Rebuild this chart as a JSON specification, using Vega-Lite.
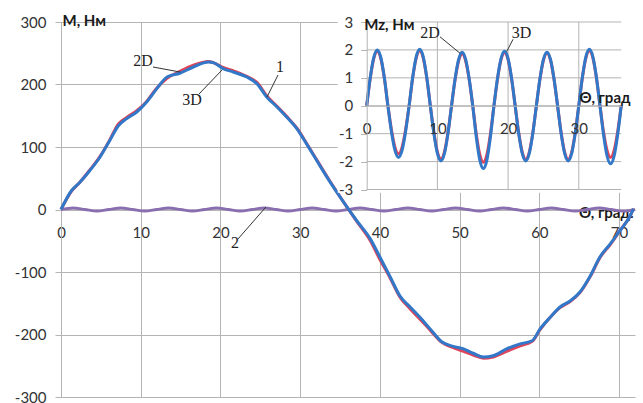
{
  "$schema": "https://vega.github.io/schema/vega-lite/v6.json",
  "width": 574,
  "height": 375,
  "autosize": {"type": "none"},
  "padding": {"left": 61, "top": 22, "right": 8, "bottom": 6},
  "background": "white",
  "config": {
    "view": {"stroke": null},
    "axis": {
      "labelFont": "Lato", "labelFontSize": 15, "labelColor": "#333333",
      "titleFont": "Lato", "titleFontSize": 15, "titleColor": "#1a1a1a", "titleFontWeight": "bold",
      "gridColor": "#b4b4b4", "gridWidth": 1, "domainColor": "#b4b4b4", "tickColor": "#b4b4b4",
      "labelFlush": false, "labelOverlap": false, "titleAngle": 0,
      "labelExpr": "'' + datum.value"
    }
  },
  "datasets": {
    "m1": [
      {"theta": 0, "m": 0, "model": "2D"}, {"theta": 1.3, "m": 29, "model": "2D"}, {"theta": 2.4, "m": 44, "model": "2D"}, {"theta": 3.6, "m": 63, "model": "2D"}, {"theta": 4.9, "m": 85, "model": "2D"}, {"theta": 6.1, "m": 111, "model": "2D"}, {"theta": 7.2, "m": 137, "model": "2D"}, {"theta": 8.2, "m": 147, "model": "2D"}, {"theta": 9.5, "m": 158, "model": "2D"}, {"theta": 10.75, "m": 173, "model": "2D"}, {"theta": 12.0, "m": 194, "model": "2D"}, {"theta": 13.3, "m": 210, "model": "2D"}, {"theta": 14.9, "m": 221, "model": "2D"}, {"theta": 16.6, "m": 231, "model": "2D"}, {"theta": 18.5, "m": 237, "model": "2D"}, {"theta": 19.1, "m": 235, "model": "2D"}, {"theta": 20.4, "m": 227, "model": "2D"}, {"theta": 21.6, "m": 222, "model": "2D"}, {"theta": 23.3, "m": 213, "model": "2D"}, {"theta": 24.6, "m": 203, "model": "2D"}, {"theta": 25.8, "m": 182, "model": "2D"}, {"theta": 27.1, "m": 165, "model": "2D"}, {"theta": 28.3, "m": 149, "model": "2D"}, {"theta": 29.6, "m": 130, "model": "2D"}, {"theta": 30.8, "m": 106, "model": "2D"}, {"theta": 32.1, "m": 79, "model": "2D"}, {"theta": 33.5, "m": 50, "model": "2D"}, {"theta": 35.6, "m": 9, "model": "2D"}, {"theta": 37.1, "m": -19, "model": "2D"}, {"theta": 38.8, "m": -50, "model": "2D"}, {"theta": 40.0, "m": -80, "model": "2D"}, {"theta": 41.3, "m": -110, "model": "2D"}, {"theta": 42.5, "m": -140, "model": "2D"}, {"theta": 43.8, "m": -159, "model": "2D"}, {"theta": 45.0, "m": -175, "model": "2D"}, {"theta": 46.3, "m": -193, "model": "2D"}, {"theta": 47.8, "m": -213, "model": "2D"}, {"theta": 49.2, "m": -221, "model": "2D"}, {"theta": 50.5, "m": -227, "model": "2D"}, {"theta": 51.7, "m": -233, "model": "2D"}, {"theta": 53.0, "m": -238, "model": "2D"}, {"theta": 54.2, "m": -236, "model": "2D"}, {"theta": 55.9, "m": -227, "model": "2D"}, {"theta": 57.6, "m": -218, "model": "2D"}, {"theta": 59.1, "m": -211, "model": "2D"}, {"theta": 60.1, "m": -192, "model": "2D"}, {"theta": 61.4, "m": -172, "model": "2D"}, {"theta": 62.6, "m": -157, "model": "2D"}, {"theta": 63.9, "m": -147, "model": "2D"}, {"theta": 65.1, "m": -133, "model": "2D"}, {"theta": 66.4, "m": -107, "model": "2D"}, {"theta": 67.6, "m": -77, "model": "2D"}, {"theta": 68.9, "m": -56, "model": "2D"}, {"theta": 70.1, "m": -34, "model": "2D"}, {"theta": 71.4, "m": -10, "model": "2D"}, {"theta": 71.8, "m": 1, "model": "2D"},
      {"theta": 0, "m": 0, "model": "3D"}, {"theta": 1.3, "m": 30, "model": "3D"}, {"theta": 2.4, "m": 44, "model": "3D"}, {"theta": 3.6, "m": 62, "model": "3D"}, {"theta": 4.9, "m": 84, "model": "3D"}, {"theta": 6.1, "m": 110, "model": "3D"}, {"theta": 7.2, "m": 134, "model": "3D"}, {"theta": 8.2, "m": 145, "model": "3D"}, {"theta": 9.5, "m": 156, "model": "3D"}, {"theta": 10.75, "m": 172, "model": "3D"}, {"theta": 12.0, "m": 193, "model": "3D"}, {"theta": 13.3, "m": 212, "model": "3D"}, {"theta": 14.9, "m": 218, "model": "3D"}, {"theta": 16.6, "m": 228, "model": "3D"}, {"theta": 18.5, "m": 236, "model": "3D"}, {"theta": 19.1, "m": 235, "model": "3D"}, {"theta": 20.4, "m": 225, "model": "3D"}, {"theta": 21.6, "m": 220, "model": "3D"}, {"theta": 23.3, "m": 212, "model": "3D"}, {"theta": 24.6, "m": 201, "model": "3D"}, {"theta": 25.8, "m": 180, "model": "3D"}, {"theta": 27.1, "m": 164, "model": "3D"}, {"theta": 28.3, "m": 148, "model": "3D"}, {"theta": 29.6, "m": 129, "model": "3D"}, {"theta": 30.8, "m": 105, "model": "3D"}, {"theta": 32.1, "m": 78, "model": "3D"}, {"theta": 33.5, "m": 49, "model": "3D"}, {"theta": 35.6, "m": 9, "model": "3D"}, {"theta": 37.1, "m": -18, "model": "3D"}, {"theta": 38.8, "m": -47, "model": "3D"}, {"theta": 40.0, "m": -76, "model": "3D"}, {"theta": 41.3, "m": -108, "model": "3D"}, {"theta": 42.5, "m": -138, "model": "3D"}, {"theta": 43.8, "m": -156, "model": "3D"}, {"theta": 45.0, "m": -172, "model": "3D"}, {"theta": 46.3, "m": -191, "model": "3D"}, {"theta": 47.8, "m": -212, "model": "3D"}, {"theta": 49.2, "m": -219, "model": "3D"}, {"theta": 50.5, "m": -223, "model": "3D"}, {"theta": 51.7, "m": -230, "model": "3D"}, {"theta": 53.0, "m": -236, "model": "3D"}, {"theta": 54.2, "m": -234, "model": "3D"}, {"theta": 55.9, "m": -223, "model": "3D"}, {"theta": 57.6, "m": -215, "model": "3D"}, {"theta": 59.1, "m": -210, "model": "3D"}, {"theta": 60.1, "m": -191, "model": "3D"}, {"theta": 61.4, "m": -172, "model": "3D"}, {"theta": 62.6, "m": -156, "model": "3D"}, {"theta": 63.9, "m": -146, "model": "3D"}, {"theta": 65.1, "m": -132, "model": "3D"}, {"theta": 66.4, "m": -106, "model": "3D"}, {"theta": 67.6, "m": -76, "model": "3D"}, {"theta": 68.9, "m": -55, "model": "3D"}, {"theta": 70.1, "m": -34, "model": "3D"}, {"theta": 71.4, "m": -10, "model": "3D"}, {"theta": 71.8, "m": 1, "model": "3D"}
    ],
    "c2": [
      {"theta": 0, "m": 0}, {"theta": 1.5, "m": 2.5}, {"theta": 3, "m": 0}, {"theta": 4.5, "m": -2.5}, {"theta": 6, "m": 0}, {"theta": 7.5, "m": 2.5}, {"theta": 9, "m": 0}, {"theta": 10.5, "m": -2.5}, {"theta": 12, "m": 0}, {"theta": 13.5, "m": 2.5}, {"theta": 15, "m": 0}, {"theta": 16.5, "m": -2.5}, {"theta": 18, "m": 0}, {"theta": 19.5, "m": 2.5}, {"theta": 21, "m": 0}, {"theta": 22.5, "m": -2.5}, {"theta": 24, "m": 0}, {"theta": 25.5, "m": 2.5}, {"theta": 27, "m": 0}, {"theta": 28.5, "m": -2.5}, {"theta": 30, "m": 0}, {"theta": 31.5, "m": 2.5}, {"theta": 33, "m": 0}, {"theta": 34.5, "m": -2.5}, {"theta": 36, "m": 0}, {"theta": 37.5, "m": 2.5}, {"theta": 39, "m": 0}, {"theta": 40.5, "m": -2.5}, {"theta": 42, "m": 0}, {"theta": 43.5, "m": 2.5}, {"theta": 45, "m": 0}, {"theta": 46.5, "m": -2.5}, {"theta": 48, "m": 0}, {"theta": 49.5, "m": 2.5}, {"theta": 51, "m": 0}, {"theta": 52.5, "m": -2.5}, {"theta": 54, "m": 0}, {"theta": 55.5, "m": 2.5}, {"theta": 57, "m": 0}, {"theta": 58.5, "m": -2.5}, {"theta": 60, "m": 0}, {"theta": 61.5, "m": 2.5}, {"theta": 63, "m": 0}, {"theta": 64.5, "m": -2.5}, {"theta": 66, "m": 0}, {"theta": 67.5, "m": 2.5}, {"theta": 69, "m": 0}, {"theta": 70.5, "m": -2.5}, {"theta": 72, "m": 0}
    ],
    "annM": [
      {"label": "2D", "tx": 10.29, "ty": 237.6, "ax": 11.54, "ay": 228, "bx": 14.93, "by": 220},
      {"label": "3D", "tx": 16.43, "ty": 175.2, "ax": 17.31, "ay": 184.8, "bx": 20.2, "by": 223.2},
      {"label": "1", "tx": 27.47, "ty": 228, "ax": 27.22, "ay": 215.2, "bx": 25.84, "by": 180},
      {"label": "2", "tx": 21.83, "ty": -53.6, "ax": 22.2, "ay": -47.2, "bx": 25.7, "by": 4}
    ],
    "mz": [
      {"theta": 0, "mz": 0, "model": "2D"}, {"theta": 0.5, "mz": 0.98, "model": "2D"}, {"theta": 1, "mz": 1.69, "model": "2D"}, {"theta": 1.5, "mz": 1.95, "model": "2D"}, {"theta": 2, "mz": 1.69, "model": "2D"}, {"theta": 2.5, "mz": 0.98, "model": "2D"}, {"theta": 3, "mz": 0, "model": "2D"}, {"theta": 3.5, "mz": -0.86, "model": "2D"}, {"theta": 4, "mz": -1.49, "model": "2D"}, {"theta": 4.5, "mz": -1.72, "model": "2D"}, {"theta": 5, "mz": -1.49, "model": "2D"}, {"theta": 5.5, "mz": -0.86, "model": "2D"},
      {"theta": 6, "mz": 0, "model": "2D"}, {"theta": 6.5, "mz": 0.99, "model": "2D"}, {"theta": 7, "mz": 1.71, "model": "2D"}, {"theta": 7.5, "mz": 1.97, "model": "2D"}, {"theta": 8, "mz": 1.71, "model": "2D"}, {"theta": 8.5, "mz": 0.99, "model": "2D"}, {"theta": 9, "mz": 0, "model": "2D"}, {"theta": 9.5, "mz": -0.95, "model": "2D"}, {"theta": 10, "mz": -1.65, "model": "2D"}, {"theta": 10.5, "mz": -1.9, "model": "2D"}, {"theta": 11, "mz": -1.65, "model": "2D"}, {"theta": 11.5, "mz": -0.95, "model": "2D"},
      {"theta": 12, "mz": 0, "model": "2D"}, {"theta": 12.5, "mz": 0.93, "model": "2D"}, {"theta": 13, "mz": 1.6, "model": "2D"}, {"theta": 13.5, "mz": 1.85, "model": "2D"}, {"theta": 14, "mz": 1.6, "model": "2D"}, {"theta": 14.5, "mz": 0.93, "model": "2D"}, {"theta": 15, "mz": 0, "model": "2D"}, {"theta": 15.5, "mz": -1.01, "model": "2D"}, {"theta": 16, "mz": -1.75, "model": "2D"}, {"theta": 16.5, "mz": -2.02, "model": "2D"}, {"theta": 17, "mz": -1.75, "model": "2D"}, {"theta": 17.5, "mz": -1.01, "model": "2D"},
      {"theta": 18, "mz": 0, "model": "2D"}, {"theta": 18.5, "mz": 0.95, "model": "2D"}, {"theta": 19, "mz": 1.65, "model": "2D"}, {"theta": 19.5, "mz": 1.9, "model": "2D"}, {"theta": 20, "mz": 1.65, "model": "2D"}, {"theta": 20.5, "mz": 0.95, "model": "2D"}, {"theta": 21, "mz": 0, "model": "2D"}, {"theta": 21.5, "mz": -0.96, "model": "2D"}, {"theta": 22, "mz": -1.66, "model": "2D"}, {"theta": 22.5, "mz": -1.92, "model": "2D"}, {"theta": 23, "mz": -1.66, "model": "2D"}, {"theta": 23.5, "mz": -0.96, "model": "2D"},
      {"theta": 24, "mz": 0, "model": "2D"}, {"theta": 24.5, "mz": 0.94, "model": "2D"}, {"theta": 25, "mz": 1.63, "model": "2D"}, {"theta": 25.5, "mz": 1.88, "model": "2D"}, {"theta": 26, "mz": 1.63, "model": "2D"}, {"theta": 26.5, "mz": 0.94, "model": "2D"}, {"theta": 27, "mz": 0, "model": "2D"}, {"theta": 27.5, "mz": -0.96, "model": "2D"}, {"theta": 28, "mz": -1.66, "model": "2D"}, {"theta": 28.5, "mz": -1.92, "model": "2D"}, {"theta": 29, "mz": -1.66, "model": "2D"}, {"theta": 29.5, "mz": -0.96, "model": "2D"},
      {"theta": 30, "mz": 0, "model": "2D"}, {"theta": 30.5, "mz": 0.99, "model": "2D"}, {"theta": 31, "mz": 1.71, "model": "2D"}, {"theta": 31.5, "mz": 1.97, "model": "2D"}, {"theta": 32, "mz": 1.71, "model": "2D"}, {"theta": 32.5, "mz": 0.99, "model": "2D"}, {"theta": 33, "mz": 0, "model": "2D"}, {"theta": 33.5, "mz": -0.93, "model": "2D"}, {"theta": 34, "mz": -1.6, "model": "2D"}, {"theta": 34.5, "mz": -1.85, "model": "2D"}, {"theta": 35, "mz": -1.6, "model": "2D"}, {"theta": 35.5, "mz": -0.93, "model": "2D"}, {"theta": 36, "mz": 0, "model": "2D"},
      {"theta": 0, "mz": 0, "model": "3D"}, {"theta": 0.5, "mz": 1.0, "model": "3D"}, {"theta": 1, "mz": 1.73, "model": "3D"}, {"theta": 1.5, "mz": 2.0, "model": "3D"}, {"theta": 2, "mz": 1.73, "model": "3D"}, {"theta": 2.5, "mz": 1.0, "model": "3D"}, {"theta": 3, "mz": 0, "model": "3D"}, {"theta": 3.5, "mz": -0.93, "model": "3D"}, {"theta": 4, "mz": -1.6, "model": "3D"}, {"theta": 4.5, "mz": -1.85, "model": "3D"}, {"theta": 5, "mz": -1.6, "model": "3D"}, {"theta": 5.5, "mz": -0.93, "model": "3D"},
      {"theta": 6, "mz": 0, "model": "3D"}, {"theta": 6.5, "mz": 1.01, "model": "3D"}, {"theta": 7, "mz": 1.75, "model": "3D"}, {"theta": 7.5, "mz": 2.02, "model": "3D"}, {"theta": 8, "mz": 1.75, "model": "3D"}, {"theta": 8.5, "mz": 1.01, "model": "3D"}, {"theta": 9, "mz": 0, "model": "3D"}, {"theta": 9.5, "mz": -0.99, "model": "3D"}, {"theta": 10, "mz": -1.71, "model": "3D"}, {"theta": 10.5, "mz": -1.98, "model": "3D"}, {"theta": 11, "mz": -1.71, "model": "3D"}, {"theta": 11.5, "mz": -0.99, "model": "3D"},
      {"theta": 12, "mz": 0, "model": "3D"}, {"theta": 12.5, "mz": 0.96, "model": "3D"}, {"theta": 13, "mz": 1.66, "model": "3D"}, {"theta": 13.5, "mz": 1.92, "model": "3D"}, {"theta": 14, "mz": 1.66, "model": "3D"}, {"theta": 14.5, "mz": 0.96, "model": "3D"}, {"theta": 15, "mz": 0, "model": "3D"}, {"theta": 15.5, "mz": -1.12, "model": "3D"}, {"theta": 16, "mz": -1.95, "model": "3D"}, {"theta": 16.5, "mz": -2.25, "model": "3D"}, {"theta": 17, "mz": -1.95, "model": "3D"}, {"theta": 17.5, "mz": -1.12, "model": "3D"},
      {"theta": 18, "mz": 0, "model": "3D"}, {"theta": 18.5, "mz": 0.98, "model": "3D"}, {"theta": 19, "mz": 1.69, "model": "3D"}, {"theta": 19.5, "mz": 1.95, "model": "3D"}, {"theta": 20, "mz": 1.69, "model": "3D"}, {"theta": 20.5, "mz": 0.98, "model": "3D"}, {"theta": 21, "mz": 0, "model": "3D"}, {"theta": 21.5, "mz": -0.99, "model": "3D"}, {"theta": 22, "mz": -1.71, "model": "3D"}, {"theta": 22.5, "mz": -1.98, "model": "3D"}, {"theta": 23, "mz": -1.71, "model": "3D"}, {"theta": 23.5, "mz": -0.99, "model": "3D"},
      {"theta": 24, "mz": 0, "model": "3D"}, {"theta": 24.5, "mz": 0.96, "model": "3D"}, {"theta": 25, "mz": 1.66, "model": "3D"}, {"theta": 25.5, "mz": 1.92, "model": "3D"}, {"theta": 26, "mz": 1.66, "model": "3D"}, {"theta": 26.5, "mz": 0.96, "model": "3D"}, {"theta": 27, "mz": 0, "model": "3D"}, {"theta": 27.5, "mz": -0.99, "model": "3D"}, {"theta": 28, "mz": -1.71, "model": "3D"}, {"theta": 28.5, "mz": -1.98, "model": "3D"}, {"theta": 29, "mz": -1.71, "model": "3D"}, {"theta": 29.5, "mz": -0.99, "model": "3D"},
      {"theta": 30, "mz": 0, "model": "3D"}, {"theta": 30.5, "mz": 1.01, "model": "3D"}, {"theta": 31, "mz": 1.75, "model": "3D"}, {"theta": 31.5, "mz": 2.02, "model": "3D"}, {"theta": 32, "mz": 1.75, "model": "3D"}, {"theta": 32.5, "mz": 1.01, "model": "3D"}, {"theta": 33, "mz": 0, "model": "3D"}, {"theta": 33.5, "mz": -1.04, "model": "3D"}, {"theta": 34, "mz": -1.8, "model": "3D"}, {"theta": 34.5, "mz": -2.08, "model": "3D"}, {"theta": 35, "mz": -1.8, "model": "3D"}, {"theta": 35.5, "mz": -1.04, "model": "3D"}, {"theta": 36, "mz": 0, "model": "3D"}
    ],
    "annI": [
      {"label": "2D", "tx": 8.95, "ty": 2.6, "ax": 10.37, "ay": 2.47, "bx": 13.2, "by": 1.88},
      {"label": "3D", "tx": 21.9, "ty": 2.6, "ax": 20.7, "ay": 2.38, "bx": 19.8, "by": 1.94}
    ],
    "insetBox": [{"x0": -4.1, "x1": 40, "y0": -3.12, "y1": 4}],
    "gridY": [{"mz": -3}, {"mz": -2}, {"mz": -1}, {"mz": 0}, {"mz": 1}, {"mz": 2}, {"mz": 3}],
    "gridX": [{"theta": 10}, {"theta": 20}, {"theta": 30}]
  },
  "layer": [
    {
      "layer": [
        {
          "data": {"name": "c2"},
          "mark": {"type": "line", "color": "#8a6fb0", "strokeWidth": 3, "interpolate": "monotone"},
          "encoding": {
            "x": {"field": "theta", "type": "quantitative",
                  "scale": {"domain": [0, 72], "nice": false, "zero": false},
                  "axis": {"orient": "bottom", "offset": -187.5, "values": [0, 10, 20, 30, 40, 50, 60, 70], "grid": true, "ticks": false, "labelPadding": 16,
                           "title": "Θ, град.", "titleX": 572, "titleY": 8, "titleAlign": "right", "titleBaseline": "alphabetic"}},
            "y": {"field": "m", "type": "quantitative",
                  "scale": {"domain": [-300, 300], "nice": false, "zero": false},
                  "axis": {"orient": "left", "values": [-300, -200, -100, 0, 100, 200, 300], "grid": true, "tickSize": 6, "labelPadding": 9,
                           "title": "M, Нм", "titleX": 1, "titleY": 3, "titleAlign": "left", "titleBaseline": "alphabetic"}}
          }
        },
        {
          "data": {"name": "m1"},
          "mark": {"type": "line", "strokeWidth": 3, "interpolate": "monotone"},
          "encoding": {
            "x": {"field": "theta", "type": "quantitative"},
            "y": {"field": "m", "type": "quantitative"},
            "color": {"field": "model", "type": "nominal", "scale": {"domain": ["2D", "3D"], "range": ["#e0435a", "#3278c8"]}, "legend": null}
          }
        },
        {
          "data": {"name": "annM"},
          "mark": {"type": "rule", "color": "#333333", "strokeWidth": 1},
          "encoding": {
            "x": {"field": "ax", "type": "quantitative"},
            "y": {"field": "ay", "type": "quantitative"},
            "x2": {"field": "bx"},
            "y2": {"field": "by"}
          }
        },
        {
          "data": {"name": "annM"},
          "mark": {"type": "text", "font": "Liberation Serif", "fontSize": 16, "color": "#222222", "align": "center", "baseline": "middle"},
          "encoding": {
            "x": {"field": "tx", "type": "quantitative"},
            "y": {"field": "ty", "type": "quantitative"},
            "text": {"field": "label"}
          }
        }
      ]
    },
    {
      "layer": [
        {
          "data": {"name": "insetBox"},
          "mark": {"type": "rect", "fill": "white", "strokeWidth": 0},
          "encoding": {
            "x": {"field": "x0", "type": "quantitative",
                  "scale": {"domain": [0, 36], "range": [305.7, 560.2], "nice": false, "zero": false},
                  "axis": {"orient": "bottom", "offset": -291.25, "values": [0, 10, 20, 30], "grid": false, "ticks": false, "labelPadding": 16, "zindex": 1,
                           "title": "Θ, град", "titleX": 569, "titleY": -3, "titleAlign": "right", "titleBaseline": "alphabetic"}},
            "x2": {"field": "x1"},
            "y": {"field": "y0", "type": "quantitative",
                  "scale": {"domain": [-3, 3], "range": [167.5, 0], "nice": false, "zero": false},
                  "axis": {"orient": "left", "offset": -305.7, "values": [-3, -2, -1, 0, 1, 2, 3], "grid": false, "tickSize": 6, "labelPadding": 8, "zindex": 1,
                           "title": "Mz, Нм", "titleX": -3, "titleY": 7, "titleAlign": "left", "titleBaseline": "alphabetic"}},
            "y2": {"field": "y1"}
          }
        },
        {
          "data": {"name": "gridY"},
          "mark": {"type": "rule", "color": "#b4b4b4", "strokeWidth": 1},
          "encoding": {
            "y": {"field": "mz", "type": "quantitative"},
            "x": {"datum": 0, "type": "quantitative"},
            "x2": {"datum": 36}
          }
        },
        {
          "data": {"name": "gridX"},
          "mark": {"type": "rule", "color": "#b4b4b4", "strokeWidth": 1},
          "encoding": {
            "x": {"field": "theta", "type": "quantitative"},
            "y": {"datum": -3, "type": "quantitative"},
            "y2": {"datum": 3}
          }
        },
        {
          "data": {"name": "mz"},
          "mark": {"type": "line", "strokeWidth": 3, "interpolate": "monotone"},
          "encoding": {
            "x": {"field": "theta", "type": "quantitative"},
            "y": {"field": "mz", "type": "quantitative"},
            "color": {"field": "model", "type": "nominal", "scale": {"domain": ["2D", "3D"], "range": ["#e0435a", "#3278c8"]}, "legend": null}
          }
        },
        {
          "data": {"name": "annI"},
          "mark": {"type": "rule", "color": "#333333", "strokeWidth": 1},
          "encoding": {
            "x": {"field": "ax", "type": "quantitative"},
            "y": {"field": "ay", "type": "quantitative"},
            "x2": {"field": "bx"},
            "y2": {"field": "by"}
          }
        },
        {
          "data": {"name": "annI"},
          "mark": {"type": "text", "font": "Liberation Serif", "fontSize": 16, "color": "#222222", "align": "center", "baseline": "middle"},
          "encoding": {
            "x": {"field": "tx", "type": "quantitative"},
            "y": {"field": "ty", "type": "quantitative"},
            "text": {"field": "label"}
          }
        }
      ]
    }
  ],
  "resolve": {"scale": {"x": "independent", "y": "independent"}, "axis": {"x": "independent", "y": "independent"}}
}
